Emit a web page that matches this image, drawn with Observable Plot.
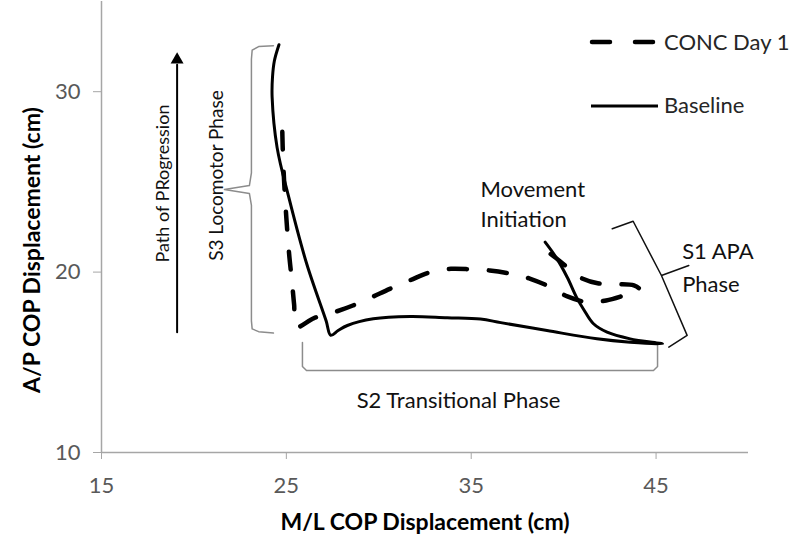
<!DOCTYPE html>
<html><head><meta charset="utf-8">
<script src="https://cdn.jsdelivr.net/npm/d3@7"></script>
<script src="https://cdn.jsdelivr.net/npm/@observablehq/plot@0.6"></script>
<style>
html,body{margin:0;padding:0;background:#fff;}
#chart{width:800px;height:543px;position:relative;}
</style></head><body><div id="chart"></div>
<script>
// ---- axis ticks ----
const xTicks = [15, 25, 35, 45];
const yTicks = [10, 20, 30];
const xTitle = "M/L COP Displacement (cm)";
const yTitle = "A/P COP Displacement (cm)";
const seriesNames = ["CONC Day 1", "Baseline"];

// ---- Baseline (solid) path, in drawing order ----
const baselineX = [39.0, 39.6, 40.2, 40.7, 41.1, 41.6, 42.35, 43.6, 45.35, 43.6, 41.8, 39.1, 36.6, 35.5, 33.7, 31.7, 29.7, 28.3, 27.8, 27.4, 27.15, 26.1, 25.13, 24.5, 24.23, 24.25, 24.35, 24.6];
const baselineY = [21.66, 20.8, 19.7, 18.6, 17.9, 17.15, 16.67, 16.3, 16.02, 16.11, 16.3, 16.76, 17.2, 17.4, 17.47, 17.54, 17.41, 17.04, 16.76, 16.5, 17.3, 20.46, 24.15, 26.9, 29.7, 30.8, 31.7, 32.6];

// ---- CONC Day 1 (dashed) path, in drawing order ----
const concX = [39.3, 39.8, 40.4, 40.9, 41.9, 42.9, 43.8, 44.1, 43.7, 43.25, 42.3, 41.3, 40.2, 39.3, 38.2, 37.2, 36.0, 35.0, 33.9, 32.8, 31.7, 30.6, 29.6, 28.6, 27.6, 26.5, 25.55, 25.42, 25.3, 25.15, 25.0, 24.88, 24.8, 24.77];
const concY = [21.0, 20.6, 20.1, 19.7, 19.37, 19.33, 19.26, 19.05, 18.85, 18.7, 18.43, 18.33, 18.65, 19.16, 19.63, 19.9, 20.09, 20.15, 20.18, 20.0, 19.55, 19.07, 18.6, 18.15, 17.78, 17.45, 16.97, 18.2, 19.5, 21.0, 23.0, 25.0, 27.0, 28.4];

// ---- annotation geometry (data coordinates) ----
const s3BraceX = [24.3, 23.5, 23.15, 23.11, 23.11, 23.0, 21.65, 23.0, 23.11, 23.11, 23.15, 23.5, 24.3];
const s3BraceY = [32.55, 32.5, 32.3, 31.8, 25.5, 24.8, 24.58, 24.36, 23.7, 17.3, 16.85, 16.7, 16.62];
const s2BraceX = [25.87, 25.87, 26.09, 44.86, 45.08, 45.08];
const s2BraceY = [16.1, 14.77, 14.55, 14.55, 14.77, 15.93];
const s1BraceX = [42.63, 43.76, 45.29, 46.77, 45.29, 46.68, 45.69];
const s1BraceY = [22.40, 22.82, 19.81, 20.37, 19.81, 16.49, 15.84];
const arrowX = [19.09, 19.09];
const arrowY = [16.67, 31.5];
const arrowHead = [{x: 19.09, y: 31.77}];

const rotatedLabels = [
  {text: "Path of PRogression", x: 18.36, y: 24.91, size: 18},
  {text: "S3 Locomotor Phase", x: 21.22, y: 25.35, size: 19}
];
const s2Label = [{text: "S2 Transitional Phase", x: 34.31, y: 12.49}];
const moveLabels = [
  {text: "Movement", x: 35.5, y: 24.15},
  {text: "Initiation", x: 35.5, y: 22.49}
];
const s1Labels = [
  {text: "S1 APA", x: 46.41, y: 20.70},
  {text: "Phase", x: 46.41, y: 18.92}
];

const zip = (xs, ys) => xs.map((x, i) => ({x, y: ys[i]}));
const baseline = zip(baselineX, baselineY);
const conc = zip(concX, concY);

const FONT = "Lato, 'Open Sans', sans-serif";
const AXIS = "#a6a6a6";
const TXT = "#111";

const chart = Plot.plot({
  width: 800, height: 543,
  marginLeft: 101, marginRight: 52, marginTop: 1, marginBottom: 91,
  style: {fontFamily: FONT, background: "#fff"},
  x: {domain: [15, 50]},
  y: {domain: [10, 35]},
  marks: [
    Plot.ruleX([15], {stroke: AXIS, strokeWidth: 1.5}),
    Plot.ruleY([10], {stroke: AXIS, strokeWidth: 1.5}),
    Plot.axisX({ticks: xTicks, tickSize: 7, tickPadding: 18, fontSize: 22, stroke: AXIS, color: "#595959", label: null, tickFormat: d => String(d)}),
    Plot.axisY({ticks: yTicks, tickSize: 8, tickPadding: 13, fontSize: 22, stroke: AXIS, color: "#595959", label: null, tickFormat: d => String(d)}),
    // annotations
    Plot.line(zip(s3BraceX, s3BraceY), {x: "x", y: "y", stroke: "#8c8c8c", strokeWidth: 1.5}),
    Plot.line(zip(s2BraceX, s2BraceY), {x: "x", y: "y", stroke: "#8c8c8c", strokeWidth: 1.5}),
    Plot.line(zip(s1BraceX, s1BraceY), {x: "x", y: "y", stroke: "#111", strokeWidth: 1.5, strokeLinejoin: "round"}),
    Plot.line(zip(arrowX, arrowY), {x: "x", y: "y", stroke: "#000", strokeWidth: 2}),
    Plot.dot(arrowHead, {x: "x", y: "y", symbol: "triangle", r: 4.8, fill: "#000", stroke: "none"}),
    Plot.text(rotatedLabels, {x: "x", y: "y", text: "text", rotate: -90, fontSize: "size", textAnchor: "middle", lineAnchor: "middle", fill: TXT}),
    Plot.text(s2Label, {x: "x", y: "y", text: "text", fontSize: 22, textAnchor: "middle", lineAnchor: "bottom", fill: TXT}),
    Plot.text(moveLabels, {x: "x", y: "y", text: "text", fontSize: 22, textAnchor: "start", lineAnchor: "bottom", fill: TXT}),
    Plot.text(s1Labels, {x: "x", y: "y", text: "text", fontSize: 22, textAnchor: "start", lineAnchor: "bottom", fill: TXT}),
    // data series
    Plot.line(conc, {x: "x", y: "y", stroke: "#000", strokeWidth: 4.5, strokeDasharray: "18,22", strokeLinecap: "round", curve: "catmull-rom"}),
    Plot.line(baseline, {x: "x", y: "y", stroke: "#000", strokeWidth: 3, curve: "catmull-rom"})
  ]
});

const svg = d3.select(chart);
// axis titles
svg.append("text")
  .attr("transform", "translate(40,250) rotate(-90)")
  .attr("text-anchor", "middle")
  .attr("font-family", FONT).attr("font-weight", 700).attr("font-size", 23)
  .attr("fill", "#000").text(yTitle);
svg.append("text")
  .attr("x", 425).attr("y", 530)
  .attr("text-anchor", "middle")
  .attr("font-family", FONT).attr("font-weight", 700).attr("font-size", 23)
  .attr("fill", "#000").text(xTitle);

// legend
const lg = svg.append("g").attr("font-family", FONT).attr("font-size", 22).attr("fill", "#262626").attr("text-anchor", "start");
lg.append("line").attr("x1", 592).attr("x2", 656).attr("y1", 42).attr("y2", 42)
  .attr("stroke", "#000").attr("stroke-width", 4.5).attr("stroke-linecap", "round").attr("stroke-dasharray", "18,25");
lg.append("text").attr("x", 664).attr("y", 50).attr("text-anchor", "start").text(seriesNames[0]);
lg.append("line").attr("x1", 591).attr("x2", 658).attr("y1", 106).attr("y2", 106)
  .attr("stroke", "#000").attr("stroke-width", 3);
lg.append("text").attr("x", 664).attr("y", 113).attr("text-anchor", "start").text(seriesNames[1]);

document.getElementById("chart").appendChild(chart);
</script>
</body></html>
